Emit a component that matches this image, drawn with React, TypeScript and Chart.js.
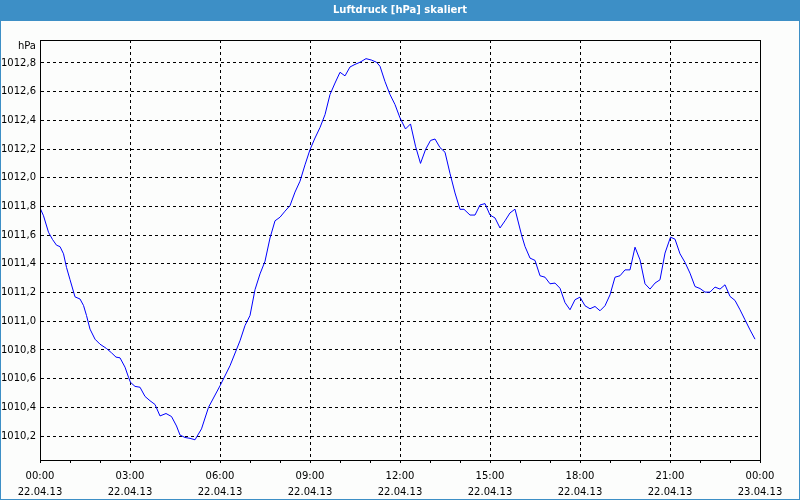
import React, { useEffect, useRef } from 'react';
import { Chart, registerables } from 'chart.js';

Chart.register(...registerables);

const TITLE = 'Luftdruck [hPa] skaliert';
const Y_UNIT = 'hPa';

// minutes since 22.04.13 00:00
const timeMinutes = [
  0, 7, 17, 25, 33, 40, 47, 53, 60, 70, 80, 87, 93, 100, 110, 120, 133, 143, 152, 160,
  170, 177, 181, 190, 200, 210, 220, 230, 240, 252, 263, 273, 280, 290, 300, 310, 323, 337, 360, 380,
  400, 410, 420, 430, 440, 450, 460, 470, 480, 490, 500, 510, 520, 530, 540, 550, 560, 570, 580, 590,
  600, 610, 620, 630, 640, 652, 663, 673, 680, 690, 700, 710, 720, 731, 741, 751, 761, 771, 781, 790,
  800, 810, 820, 830, 840, 848, 860, 870, 880, 890, 900, 910, 920, 930, 940, 950, 963, 970, 980, 990,
  1000, 1010, 1020, 1030, 1040, 1050, 1060, 1070, 1080, 1090, 1100, 1110, 1120, 1130, 1140, 1150, 1160, 1170, 1180, 1190,
  1200, 1210, 1220, 1230, 1240, 1250, 1261, 1270, 1280, 1290, 1300, 1310, 1320, 1330, 1340, 1350, 1360, 1370, 1380, 1390,
  1400, 1410, 1420, 1430,
];

const pressure = [
  1011.79, 1011.735, 1011.62, 1011.57, 1011.53, 1011.52, 1011.47, 1011.375, 1011.29, 1011.17,
  1011.155, 1011.11, 1011.04, 1010.945, 1010.875, 1010.84, 1010.81, 1010.78, 1010.75, 1010.745,
  1010.68, 1010.61, 1010.574, 1010.546, 1010.54, 1010.476, 1010.446, 1010.42, 1010.34, 1010.357,
  1010.336, 1010.27, 1010.207, 1010.19, 1010.184, 1010.174, 1010.25, 1010.4, 1010.55, 1010.69,
  1010.864, 1010.97, 1011.04, 1011.22, 1011.33, 1011.418, 1011.58, 1011.70, 1011.725, 1011.767,
  1011.806, 1011.90, 1011.976, 1012.09, 1012.196, 1012.277, 1012.35, 1012.44, 1012.58, 1012.66,
  1012.735, 1012.71, 1012.772, 1012.79, 1012.805, 1012.83, 1012.82, 1012.805, 1012.777, 1012.67,
  1012.58, 1012.51, 1012.417, 1012.34, 1012.375, 1012.22, 1012.10, 1012.196, 1012.26, 1012.27,
  1012.21, 1012.178, 1012.03, 1011.894, 1011.78, 1011.78, 1011.74, 1011.74, 1011.81, 1011.82,
  1011.74, 1011.72, 1011.65, 1011.70, 1011.755, 1011.781, 1011.602, 1011.521, 1011.44, 1011.424,
  1011.317, 1011.307, 1011.261, 1011.266, 1011.23, 1011.13, 1011.08, 1011.15, 1011.168, 1011.108,
  1011.087, 1011.103, 1011.073, 1011.108, 1011.184, 1011.307, 1011.317, 1011.358, 1011.358, 1011.516,
  1011.428, 1011.261, 1011.224, 1011.266, 1011.289, 1011.475, 1011.586, 1011.572, 1011.47, 1011.41,
  1011.335, 1011.242, 1011.228, 1011.203, 1011.203, 1011.238, 1011.224, 1011.254, 1011.173, 1011.145,
  1011.08, 1011.01, 1010.94, 1010.875,
];

const yTickValues = [
  1010.2, 1010.4, 1010.6, 1010.8, 1011.0, 1011.2, 1011.4, 1011.6, 1011.8, 1012.0, 1012.2, 1012.4, 1012.6, 1012.8,
];
const xTickHours = [0, 1, 2, 3, 4, 5, 6, 7, 8, 9, 10, 11, 12, 13, 14, 15, 16, 17, 18, 19, 20, 21, 22, 23, 24];
const xLabelTimes = ['00:00', '03:00', '06:00', '09:00', '12:00', '15:00', '18:00', '21:00', '00:00'];
const xLabelDates = ['22.04.13', '22.04.13', '22.04.13', '22.04.13', '22.04.13', '22.04.13', '22.04.13', '22.04.13', '23.04.13'];

const Y_MIN = 1010.033;
const Y_MAX = 1012.96;

export default function App() {
  const ref = useRef<HTMLCanvasElement>(null);

  useEffect(() => {
    document.body.style.margin = '0';
    const canvas = ref.current;
    if (!canvas) return;

    const framePlugin = {
      id: 'frame',
      beforeDraw(chart: any) {
        const { ctx, width, height } = chart;
        ctx.save();
        ctx.fillStyle = '#FCFDFC';
        ctx.fillRect(0, 0, width, height);
        ctx.fillStyle = '#3D8FC6';
        ctx.fillRect(0, 0, width, 21);
        ctx.fillStyle = '#FFFFFF';
        ctx.font = 'bold 10px "DejaVu Sans"';
        ctx.textAlign = 'center';
        ctx.textBaseline = 'middle';
        ctx.fillText(TITLE, width / 2, 10.5);
        ctx.strokeStyle = '#3D8FC6';
        ctx.lineWidth = 1;
        ctx.strokeRect(0.5, 0.5, width - 1, height - 1);
        ctx.fillStyle = '#000000';
        ctx.font = '10px "DejaVu Sans"';
        ctx.textAlign = 'right';
        ctx.fillText(Y_UNIT, chart.chartArea.left - 4, 46);
        ctx.restore();
      },
      afterDraw(chart: any) {
        const { ctx, chartArea } = chart;
        const { left, top, right, bottom } = chartArea;
        ctx.save();
        ctx.strokeStyle = '#000000';
        ctx.lineWidth = 1;
        ctx.setLineDash([]);
        ctx.strokeRect(left + 0.5, top + 0.5, right - left, bottom - top);
        ctx.restore();
      },
    };

    const font = { family: '"DejaVu Sans"', size: 10, lineHeight: 1.6 };

    const chart = new Chart(canvas, {
      type: 'line',
      data: {
        datasets: [
          {
            label: TITLE,
            data: timeMinutes.map((t, i) => ({ x: t, y: pressure[i] })),
            borderColor: '#0000FF',
            borderWidth: 1,
            pointRadius: 0,
            tension: 0,
            fill: false,
          },
        ],
      },
      options: {
        responsive: false,
        animation: false,
        devicePixelRatio: 1,
        layout: { padding: { top: 40, right: 40, left: 0, bottom: 0 } },
        plugins: { legend: { display: false }, title: { display: false }, tooltip: { enabled: false } },
        scales: {
          x: {
            type: 'linear',
            min: 0,
            max: 1440,
            afterFit: (s: any) => {
              s.height = 40;
            },
            afterBuildTicks: (s: any) => {
              s.ticks = xTickHours.map((h) => ({ value: h * 60 }));
            },
            border: { display: true, color: '#000000', width: 1, dash: [3, 3] },
            grid: {
              color: (c: any) => (c.tick && c.tick.value % 180 === 0 ? '#000000' : 'rgba(0,0,0,0)'),
              tickColor: '#000000',
              tickLength: 3,
              tickBorderDash: [],
              lineWidth: 1,
              drawTicks: true,
            },
            ticks: {
              autoSkip: false,
              maxRotation: 0,
              minRotation: 0,
              padding: 5,
              color: '#000000',
              font,
              callback: (v: any) => {
                const m = Number(v);
                if (m % 180 !== 0) return '';
                const idx = m / 180;
                return [xLabelTimes[idx], xLabelDates[idx]];
              },
            },
          },
          y: {
            type: 'linear',
            min: Y_MIN,
            max: Y_MAX,
            afterFit: (s: any) => {
              s.width = 40;
            },
            afterBuildTicks: (s: any) => {
              s.ticks = yTickValues.map((v) => ({ value: v }));
            },
            border: { display: true, color: '#000000', width: 1, dash: [3, 3] },
            grid: { color: '#000000', drawTicks: false, lineWidth: 1 },
            ticks: {
              padding: 4,
              color: '#000000',
              font: { family: '"DejaVu Sans"', size: 10 },
              callback: (v: any) => Number(v).toFixed(1).replace('.', ','),
            },
          },
        },
      },
      plugins: [framePlugin],
    } as any);

    return () => {
      chart.destroy();
    };
  }, []);

  return (
    <div style={{ width: 800, height: 500 }}>
      <canvas ref={ref} width={800} height={500} style={{ display: 'block', width: 800, height: 500 }} />
    </div>
  );
}
